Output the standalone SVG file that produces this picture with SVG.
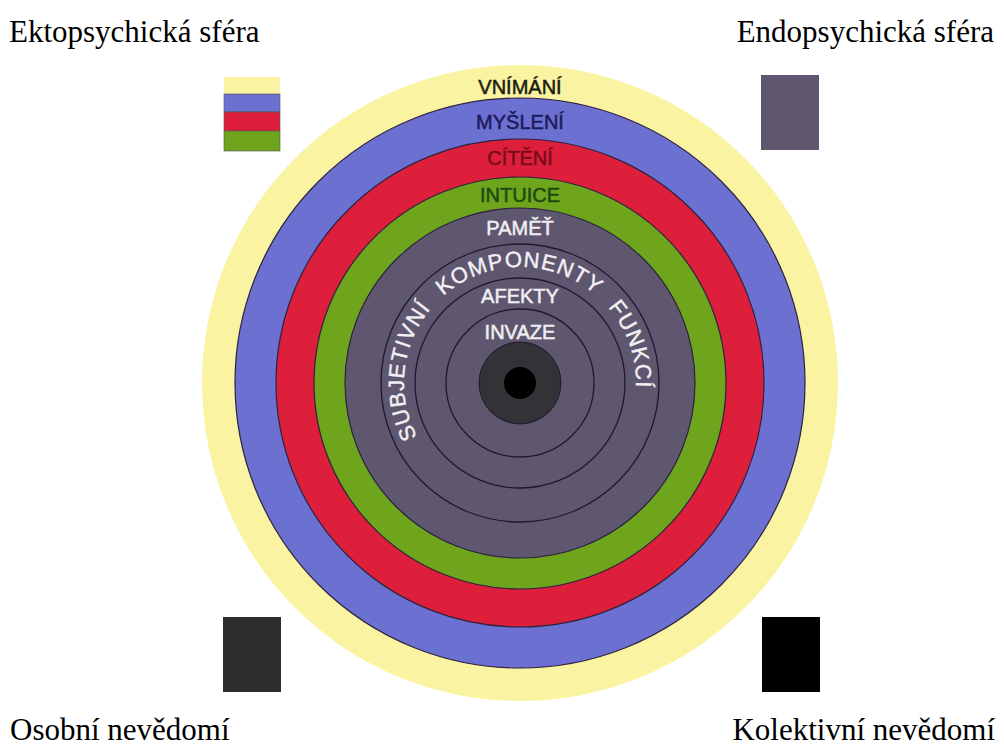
<svg xmlns="http://www.w3.org/2000/svg" width="1004" height="750" viewBox="0 0 1004 750">
<style>
.corner{font-family:"Liberation Serif","Times New Roman",serif;font-size:31px;fill:#000}
.lbl{font-family:"Liberation Sans",Arial,sans-serif;font-size:20px;text-anchor:middle;stroke-width:0.5}
.ring{stroke:#2b2340;stroke-width:1.2}
.line{fill:none;stroke:#1e1830;stroke-width:1.3}
.arc{font-family:"Liberation Sans",Arial,sans-serif;font-size:22px;fill:#f2f0f4;stroke:#f2f0f4;stroke-width:0.4;letter-spacing:1px;word-spacing:10px}
</style>
<defs>
<path id="tp" d="M 520 499 A 116 116 0 1 1 520 267 A 116 116 0 1 1 520 499"/>
</defs>
<rect width="1004" height="750" fill="#fff"/>
<g id="rings">
<circle cx="520" cy="383" r="318" fill="#faf3a2"/>
<circle cx="520" cy="383" r="285" fill="#6c70d0" class="ring"/>
<circle cx="520" cy="383" r="244" fill="#dd1f3b" class="ring"/>
<circle cx="520" cy="383" r="206" fill="#6ea51c" class="ring"/>
<circle cx="520" cy="383" r="175" fill="#5f5770" class="ring"/>
<circle cx="520" cy="383" r="139" class="line"/>
<circle cx="520" cy="383" r="105" class="line"/>
<circle cx="520" cy="383" r="74" class="line"/>
<circle cx="520" cy="383" r="41" fill="#333236" stroke="#1e1830" stroke-width="1"/>
<circle cx="520" cy="383" r="16" fill="#000"/>
</g>
<g id="labels">
<text class="lbl" x="520" y="94" fill="#1c1c10" stroke="#1c1c10">VNÍMÁNÍ</text>
<text class="lbl" x="520" y="129" fill="#1c1c5c" stroke="#1c1c5c">MYŠLENÍ</text>
<text class="lbl" x="520" y="165" fill="#7a0b1c" stroke="#7a0b1c">CÍTĚNÍ</text>
<text class="lbl" x="520" y="202" fill="#1d4a12" stroke="#1d4a12">INTUICE</text>
<text class="lbl" x="520" y="235" fill="#f0eef2" stroke="#f0eef2">PAMĚŤ</text>
<text class="lbl" x="520" y="303" fill="#f0eef2" stroke="#f0eef2">AFEKTY</text>
<text class="lbl" x="520" y="339" fill="#f0eef2" stroke="#f0eef2">INVAZE</text>
<text class="arc"><textPath href="#tp" startOffset="126">SUBJETIVNÍ KOMPONENTY FUNKCÍ</textPath></text>
</g>
<g id="legend-ekto">
<rect x="224" y="77" width="56" height="17" fill="#faf3a2"/>
<rect x="224" y="94" width="56" height="18" fill="#6c70d0" stroke="#555" stroke-width="0.6"/>
<rect x="224" y="112" width="56" height="19" fill="#dd1f3b" stroke="#555" stroke-width="0.6"/>
<rect x="224" y="131" width="56" height="20" fill="#6ea51c" stroke="#555" stroke-width="0.6"/>
</g>
<g id="legend-endo"><rect x="761" y="75" width="58" height="75" fill="#5f5770"/></g>
<g id="legend-osobni"><rect x="223" y="617" width="58" height="75" fill="#2d2d2d"/></g>
<g id="legend-kolektivni"><rect x="762" y="617" width="58" height="75" fill="#000"/></g>
<g id="corner-labels">
<text class="corner" x="9" y="42">Ektopsychická sféra</text>
<text class="corner" x="994" y="42" text-anchor="end">Endopsychická sféra</text>
<text class="corner" x="10" y="740">Osobní nevědomí</text>
<text class="corner" x="995" y="740" text-anchor="end">Kolektivní nevědomí</text>
</g>
<g id="connectors"/>
</svg>
